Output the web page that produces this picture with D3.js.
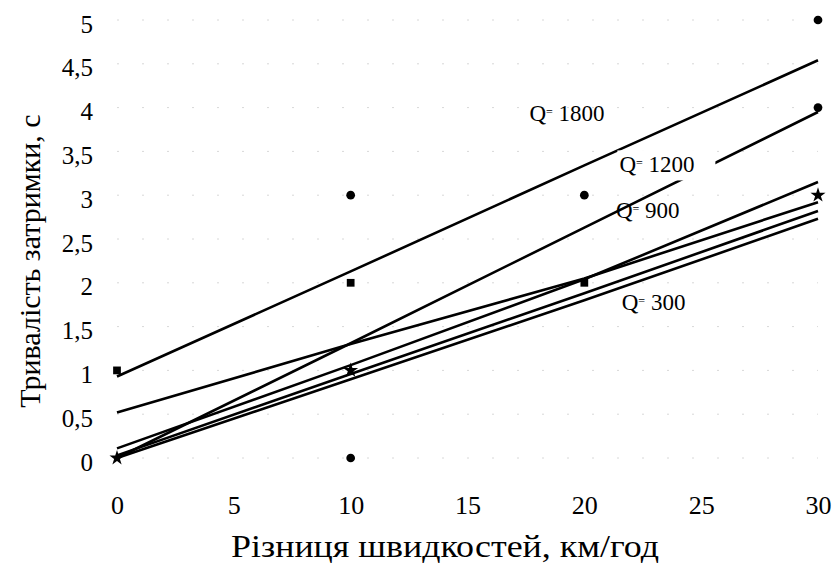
<!DOCTYPE html>
<html>
<head>
<meta charset="utf-8">
<script src="https://cdn.jsdelivr.net/npm/d3@7"></script>
<style>
  html, body { margin: 0; padding: 0; background: #fff; }
  svg { display: block; }
  svg text { font-family: "Liberation Serif", "DejaVu Serif", serif; fill: #000; }
</style>
</head>
<body>
<div id="chart"></div>
<script>
/**
 * Delay duration vs. speed difference, trend lines for several Q values
 */

var W = 833, H = 563;

// data
var xValues = [0, 10, 20, 30];
var seriesNames = ["Q=1800", "Q=1200", "Q=900", "Q=600", "Q=450", "Q=300"];
var q1800 = [0.93, 2.13, 3.34, 4.54];
var q1200 = [0.00, 1.31, 2.63, 3.95];
var q900  = [0.52, 1.30, 2.05, 2.92];
var q600  = [0.11, 1.06, 2.04, 3.15];
var q450  = [0.03, 0.96, 1.88, 2.82];
var q300  = [0.00, 0.90, 1.80, 2.73];

var pointX = [0, 0, 10, 10, 10, 10, 20, 20, 30, 30, 30];
var pointY = [1, 0, 3, 2, 1, 0, 3, 2, 5, 4, 3];
var pointShape = ["square", "star", "circle", "square", "star", "circle",
                  "circle", "square", "circle", "circle", "star"];

var xTicks = [0, 5, 10, 15, 20, 25, 30];
var yTicks = [0, 0.5, 1, 1.5, 2, 2.5, 3, 3.5, 4, 4.5, 5];
var yTickLabels = ["0", "0,5", "1", "1,5", "2", "2,5", "3", "3,5", "4", "4,5", "5"];

var labelText = ["1800", "1200", "900", "300"];
var labelX = [17.65, 21.5, 21.35, 21.6];   /// data units
var labelY = [3.85, 3.26, 2.74, 1.69];

var allSeries = [q1800, q1200, q900, q600, q450, q300];

var x = d3.scaleLinear().domain([0, 30]).range([117, 818]);
var y = d3.scaleLinear().domain([0, 5]).range([458, 20]);

var svg = d3.select("#chart").append("svg")
    .attr("width", W).attr("height", H);

/// faint grid specks
svg.append("g").selectAll("line")
    .data(yTicks)
    .enter().append("line")
    .attr("x1", x(0)).attr("x2", x(30))
    .attr("y1", d => y(d)).attr("y2", d => y(d))
    .attr("stroke", "#d8d8d8")
    .attr("stroke-width", 1)
    .attr("stroke-dasharray", "2,23");

/// axes (labels only)
var yAxis = d3.axisLeft(y)
    .tickValues(yTicks)
    .tickSize(0)
    .tickPadding(0)
    .tickFormat((d, i) => yTickLabels[i]);
var gy = svg.append("g").attr("transform", "translate(93,4)").call(yAxis);
gy.select(".domain").remove();
gy.attr("font-family", null);
gy.selectAll("text").attr("font-size", 25).attr("fill", "#000");

var xAxis = d3.axisBottom(x).tickValues(xTicks).tickSize(0).tickPadding(0);
var gx = svg.append("g").attr("transform", "translate(0,496)").call(xAxis);
gx.select(".domain").remove();
gx.attr("font-family", null);
gx.selectAll("text").attr("font-size", 26).attr("fill", "#000");

/// axis titles
svg.append("text")
    .attr("x", 445).attr("y", 557)
    .attr("text-anchor", "middle")
    .attr("font-size", 31)
    .attr("textLength", 428)
    .attr("lengthAdjust", "spacingAndGlyphs")
    .text("Різниця швидкостей, км/год");

svg.append("text")
    .attr("transform", "translate(40,261) rotate(-90)")
    .attr("text-anchor", "middle")
    .attr("font-size", 30)
    .text("Тривалість затримки, с");

/// trend lines
var line = d3.line()
    .x((d, i) => x(xValues[i]))
    .y(d => y(d));

svg.append("g").selectAll("path")
    .data(allSeries)
    .enter().append("path")
    .attr("d", line)
    .attr("fill", "none")
    .attr("stroke", "#000")
    .attr("stroke-width", 2.6)
    .attr("stroke-linejoin", "round");

/// data points
var symType = {circle: d3.symbolCircle, square: d3.symbolSquare, star: d3.symbolStar};
var symSize = {circle: 60, square: 60, star: 70};

svg.append("g").selectAll("path")
    .data(pointX)
    .enter().append("path")
    .attr("transform", (d, i) => "translate(" + x(d) + "," + y(pointY[i]) + ")")
    .attr("d", (d, i) => d3.symbol().type(symType[pointShape[i]]).size(symSize[pointShape[i]])())
    .attr("fill", "#000");

/// Q labels
var labs = svg.append("g").selectAll("g")
    .data(labelText)
    .enter().append("g")
    .attr("transform", (d, i) => "translate(" + x(labelX[i]) + "," + y(labelY[i]) + ")");

labs.each(function (d, i) {
    var g = d3.select(this);
    if (d === "1200") {
        g.append("rect")
            .attr("x", -2).attr("y", -22).attr("width", 98).attr("height", 30)
            .attr("fill", "#fff");
    }
    var t = g.append("text").attr("font-size", 23);
    t.append("tspan").text("Q");
    t.append("tspan").attr("font-size", 12).attr("dy", -5).text("=");
    t.append("tspan").attr("dy", 5).text("\u00a0" + d);
});
</script>
</body>
</html>
